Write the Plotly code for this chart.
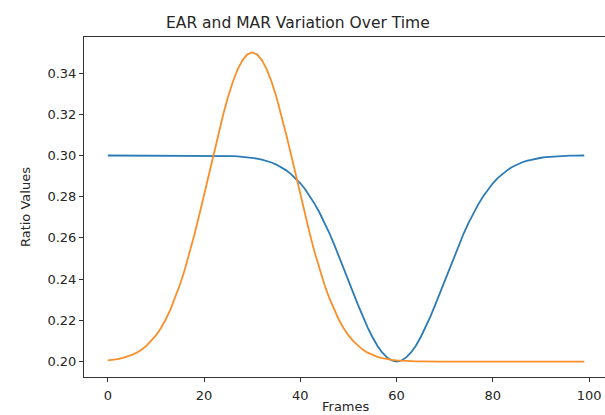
import plotly.graph_objects as go

# ---- data ----
frames = list(range(100))

ear_values = [
    0.3000, 0.3000, 0.3000, 0.3000, 0.3000, 0.3000, 0.3000, 0.3000, 0.3000, 0.3000,
    0.3000, 0.3000, 0.3000, 0.3000, 0.3000, 0.3000, 0.3000, 0.3000, 0.3000, 0.3000,
    0.3000, 0.3000, 0.2999, 0.2999, 0.2999, 0.2998, 0.2997, 0.2996, 0.2994, 0.2992,
    0.2989, 0.2985, 0.2980, 0.2974, 0.2966, 0.2956, 0.2944, 0.2929, 0.2911, 0.2890,
    0.2865, 0.2836, 0.2802, 0.2764, 0.2722, 0.2675, 0.2625, 0.2570, 0.2513, 0.2454,
    0.2394, 0.2333, 0.2274, 0.2217, 0.2165, 0.2118, 0.2077, 0.2044, 0.2020, 0.2005,
    0.2000, 0.2005, 0.2020, 0.2044, 0.2077, 0.2118, 0.2165, 0.2217, 0.2274, 0.2333,
    0.2394, 0.2454, 0.2513, 0.2570, 0.2625, 0.2675, 0.2722, 0.2764, 0.2802, 0.2836,
    0.2865, 0.2890, 0.2911, 0.2929, 0.2944, 0.2956, 0.2966, 0.2974, 0.2980, 0.2985,
    0.2989, 0.2992, 0.2994, 0.2996, 0.2997, 0.2998, 0.2999, 0.2999, 0.2999, 0.3000,
]

mar_values = [
    0.2006, 0.2008, 0.2012, 0.2017, 0.2023, 0.2032, 0.2043, 0.2057, 0.2076, 0.2099,
    0.2127, 0.2162, 0.2203, 0.2252, 0.2309, 0.2374, 0.2447, 0.2528, 0.2617, 0.2711,
    0.2809, 0.2910, 0.3011, 0.3108, 0.3201, 0.3286, 0.3359, 0.3419, 0.3463, 0.3491,
    0.3500, 0.3491, 0.3463, 0.3419, 0.3359, 0.3286, 0.3201, 0.3108, 0.3011, 0.2910,
    0.2809, 0.2711, 0.2617, 0.2528, 0.2447, 0.2374, 0.2309, 0.2252, 0.2203, 0.2162,
    0.2127, 0.2099, 0.2076, 0.2057, 0.2043, 0.2032, 0.2023, 0.2017, 0.2012, 0.2008,
    0.2006, 0.2004, 0.2003, 0.2002, 0.2001, 0.2001, 0.2000, 0.2000, 0.2000, 0.2000,
    0.2000, 0.2000, 0.2000, 0.2000, 0.2000, 0.2000, 0.2000, 0.2000, 0.2000, 0.2000,
    0.2000, 0.2000, 0.2000, 0.2000, 0.2000, 0.2000, 0.2000, 0.2000, 0.2000, 0.2000,
    0.2000, 0.2000, 0.2000, 0.2000, 0.2000, 0.2000, 0.2000, 0.2000, 0.2000, 0.2000,
]

x_ticks = [0, 20, 40, 60, 80, 100]
y_ticks = [0.20, 0.22, 0.24, 0.26, 0.28, 0.30, 0.32, 0.34]
y_tick_labels = ["0.20", "0.22", "0.24", "0.26", "0.28", "0.30", "0.32", "0.34"]

title_text = "EAR and MAR Variation Over Time"
x_title = "Frames"
y_title = "Ratio Values"

# ---- figure ----
FONT = "DejaVu Sans"
TXT = "#262626"
W, H = 605, 415
L, T, B, R = 83.5, 37, 38, 0
pw, ph = W - L - R, H - T - B

fig = go.Figure()
fig.add_trace(go.Scatter(x=frames, y=ear_values, mode="lines", name="EAR",
                         line=dict(color="#2b7bb6", width=1.8)))
fig.add_trace(go.Scatter(x=frames, y=mar_values, mode="lines", name="MAR",
                         line=dict(color="#f98f2a", width=1.8)))

fig.update_layout(
    width=W, height=H,
    margin=dict(l=L, r=R, t=T, b=B, pad=0),
    paper_bgcolor="white", plot_bgcolor="white",
    showlegend=False,
    font=dict(family=FONT, size=13, color=TXT),
    xaxis=dict(range=[-4.95, 103.3], tickvals=x_ticks, showgrid=False, zeroline=False,
               showline=True, linecolor="#333", linewidth=1, mirror=True,
               ticks="outside", ticklen=4, tickwidth=1, tickcolor="#333",
               ticklabelstandoff=2, ticklabeloverflow="allow",
               tickfont=dict(family=FONT, size=13, color=TXT)),
    yaxis=dict(range=[0.1925, 0.3575], tickvals=y_ticks, ticktext=y_tick_labels,
               showgrid=False, zeroline=False,
               showline=True, linecolor="#333", linewidth=1, mirror=False,
               ticks="outside", ticklen=4, tickwidth=1, tickcolor="#333",
               tickfont=dict(family=FONT, size=13, color=TXT)),
)

def px_x(px):
    return (px - L) / pw

def px_y(py):
    return (H - B - py) / ph

fig.add_annotation(text=title_text, x=px_x(298), y=px_y(23), xref="paper", yref="paper",
                   xanchor="center", yanchor="middle", showarrow=False,
                   font=dict(family=FONT, size=15.5, color=TXT))
fig.add_annotation(text=x_title, x=px_x(345.5), y=px_y(407), xref="paper", yref="paper",
                   xanchor="center", yanchor="middle", showarrow=False,
                   font=dict(family=FONT, size=13, color=TXT))
fig.add_annotation(text=y_title, x=px_x(25), y=px_y(207.5), xref="paper", yref="paper",
                   xanchor="center", yanchor="middle", showarrow=False, textangle=-90,
                   font=dict(family=FONT, size=13, color=TXT))

# remove the page's default body margin so the 605x415 figure fills the window exactly
post = ("document.body.style.margin='0';"
        "document.body.style.overflow='hidden';"
        "document.documentElement.style.overflow='hidden';")
fig.write_html("out.html", post_script=post, config={"displayModeBar": False})
